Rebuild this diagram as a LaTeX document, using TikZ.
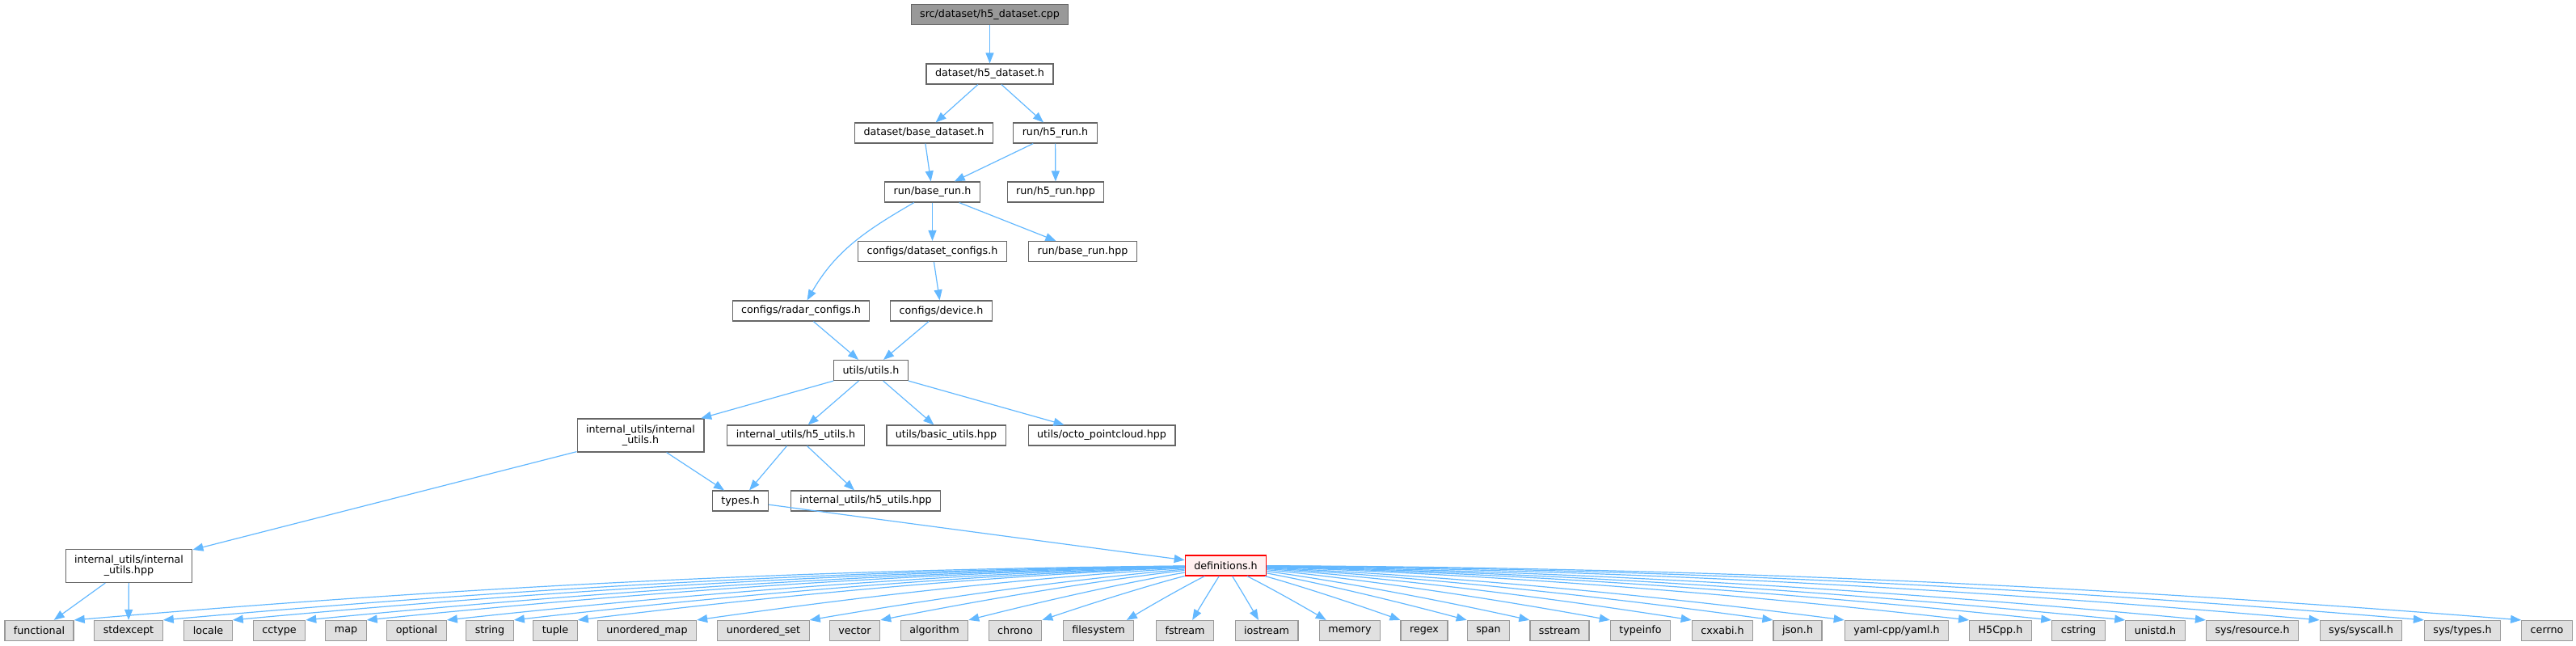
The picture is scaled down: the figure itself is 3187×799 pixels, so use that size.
\documentclass[tikz,border=0pt]{standalone}
\usepackage{fontspec}
\setmainfont{DejaVu Sans}
\usetikzlibrary{arrows.meta, calc}
\definecolor{edgeColor}{RGB}{99, 184, 255}
\definecolor{frameColor}{RGB}{102, 102, 102}
\definecolor{sysFrameColor}{RGB}{153, 153, 153}
\definecolor{sysFillColor}{RGB}{224, 224, 224}
\definecolor{rootFillColor}{RGB}{153, 153, 153}
\definecolor{truncFillColor}{RGB}{255, 240, 240}
% name/x-centre/label of the headers in the bottom row
\newcommand{\sysHeaderList}{functional/48.5/functional, stdexcept/159/stdexcept, locale/257.5/locale,
	cctype/345.5/cctype, map/428/map, optional/515.5/optional, string/606/string, tuple/687/tuple,
	unorderedMap/800.5/{unordered\_map}, unorderedSet/944.5/{unordered\_set}, vector/1057.5/vector,
	algorithm/1156/algorithm, chrono/1256/chrono, filesystem/1359/filesystem, fstream/1466/fstream,
	iostream/1567/iostream, memory/1670/memory, regex/1762/regex, span/1841.5/span, sstream/1929.5/sstream,
	typeinfo/2029.5/typeinfo, cxxabi/2131/{cxxabi.h}, json/2224/{json.h}, yaml/2346.5/{yaml-cpp/yaml.h},
	hfivecpp/2475/{H5Cpp.h}, cstring/2571.5/cstring, unistd/2666.5/{unistd.h}, sysResource/2786.5/{sys/resource.h},
	sysSyscall/2921/{sys/syscall.h}, sysTypes/3046.5/{sys/types.h}, cerrno/3151/cerrno}

\begin{document}
\begin{tikzpicture}[x=1pt, y=1pt, font=\fontsize{12.7}{13.3}\selectfont,
		fileBox/.style={draw=frameColor, line width=1.2pt, fill=white, inner xsep=11pt, inner ysep=2pt, minimum height=25pt, align=center},
		rootBox/.style={fileBox, fill=rootFillColor},
		sysBox/.style={fileBox, draw=sysFrameColor, fill=sysFillColor},
		truncBox/.style={fileBox, draw=red, fill=truncFillColor},
		twoLine/.style={minimum height=41pt},
		depEdge/.style={-{Triangle[length=13pt, width=10pt]}, edgeColor, line width=1.2pt}]
	\useasboundingbox (0, 0) rectangle (3187, -799);

	% Source file and the project headers it pulls in
	\node[rootBox] (cppFile) at (1224.5, -18) {src/dataset/h5\_dataset.cpp};
	\node[fileBox] (h5Dataset) at (1224.5, -91.5) {dataset/h5\_dataset.h};
	\node[fileBox] (baseDataset) at (1143, -164.5) {dataset/base\_dataset.h};
	\node[fileBox] (h5Run) at (1305.5, -164.5) {run/h5\_run.h};
	\node[fileBox] (baseRun) at (1153.5, -237.5) {run/base\_run.h};
	\node[fileBox] (h5RunHpp) at (1306, -237.5) {run/h5\_run.hpp};
	\node[fileBox] (datasetConfigs) at (1153.5, -311) {configs/dataset\_configs.h};
	\node[fileBox] (baseRunHpp) at (1339.5, -311) {run/base\_run.hpp};
	\node[fileBox] (radarConfigs) at (991, -384.5) {configs/radar\_configs.h};
	\node[fileBox] (deviceH) at (1164.5, -384.5) {configs/device.h};
	\node[fileBox] (utilsH) at (1077.5, -458) {utils/utils.h};
	\node[fileBox, twoLine] (internalUtilsH) at (792.5, -538.5) {internal\_utils/internal\\\_utils.h};
	\node[fileBox] (h5Utils) at (984.5, -538.5) {internal\_utils/h5\_utils.h};
	\node[fileBox] (basicUtils) at (1170.5, -538.5) {utils/basic\_utils.hpp};
	\node[fileBox] (octoPointcloud) at (1363, -538.5) {utils/octo\_pointcloud.hpp};
	\node[fileBox] (typesH) at (916, -619.5) {types.h};
	\node[fileBox] (h5UtilsHpp) at (1071, -619.5) {internal\_utils/h5\_utils.hpp};
	\node[fileBox, twoLine] (internalUtilsHpp) at (159.5, -700) {internal\_utils/internal\\\_utils.hpp};
	\node[truncBox] (definitions) at (1516.5, -699.5) {definitions.h};

	% System and third-party headers along the bottom
	\foreach \name/\x/\label in \sysHeaderList
		\node[sysBox] (\name) at (\x, -780) {\label};

	% Include edges between project headers
	\draw[depEdge] (cppFile) -- (h5Dataset);
	\draw[depEdge] (h5Dataset) -- (baseDataset);
	\draw[depEdge] (h5Dataset) -- (h5Run);
	\draw[depEdge] (baseDataset) -- (baseRun);
	\draw[depEdge] (h5Run) -- (baseRun);
	\draw[depEdge] (h5Run) -- (h5RunHpp);
	\draw[depEdge] (baseRun) to[out=210, in=60] (radarConfigs);
	\draw[depEdge] (baseRun) -- (datasetConfigs);
	\draw[depEdge] (baseRun) -- (baseRunHpp);
	\draw[depEdge] (datasetConfigs) -- (deviceH);
	\draw[depEdge] (radarConfigs) -- (utilsH);
	\draw[depEdge] (deviceH) -- (utilsH);
	\draw[depEdge] (utilsH) -- (internalUtilsH);
	\draw[depEdge] (utilsH) -- (h5Utils);
	\draw[depEdge] (utilsH) -- (basicUtils);
	\draw[depEdge] (utilsH) -- (octoPointcloud);
	\draw[depEdge] (internalUtilsH) -- (internalUtilsHpp);
	\draw[depEdge] (internalUtilsH) -- (typesH);
	\draw[depEdge] (h5Utils) -- (typesH);
	\draw[depEdge] (h5Utils) -- (h5UtilsHpp);
	\draw[depEdge] (typesH) -- (definitions);
	\draw[depEdge] (internalUtilsHpp) -- (functional);
	\draw[depEdge] (internalUtilsHpp) -- (stdexcept);

	% Fan out of definitions.h, landing near the top corner facing it
	\foreach \name/\x/\label in \sysHeaderList {
		\pgfmathsetmacro\bow{0.013*abs(\x-1516.5)}
		\pgfmathsetmacro\reach{min(1, abs(\x-1516.5)/200)}
		\ifdim\x pt<1516.5pt \def\corner{north east}\else\def\corner{north west}\fi
		\coordinate (tipPt) at ($(\name.north)!\reach!(\name.\corner)$);
		\draw[depEdge] (definitions) .. controls ($(definitions)!0.35!(tipPt)+(0,\bow)$)
			and ($(definitions)!0.65!(tipPt)+(0,\bow)$) .. (tipPt);
	}
\end{tikzpicture}
\end{document}
